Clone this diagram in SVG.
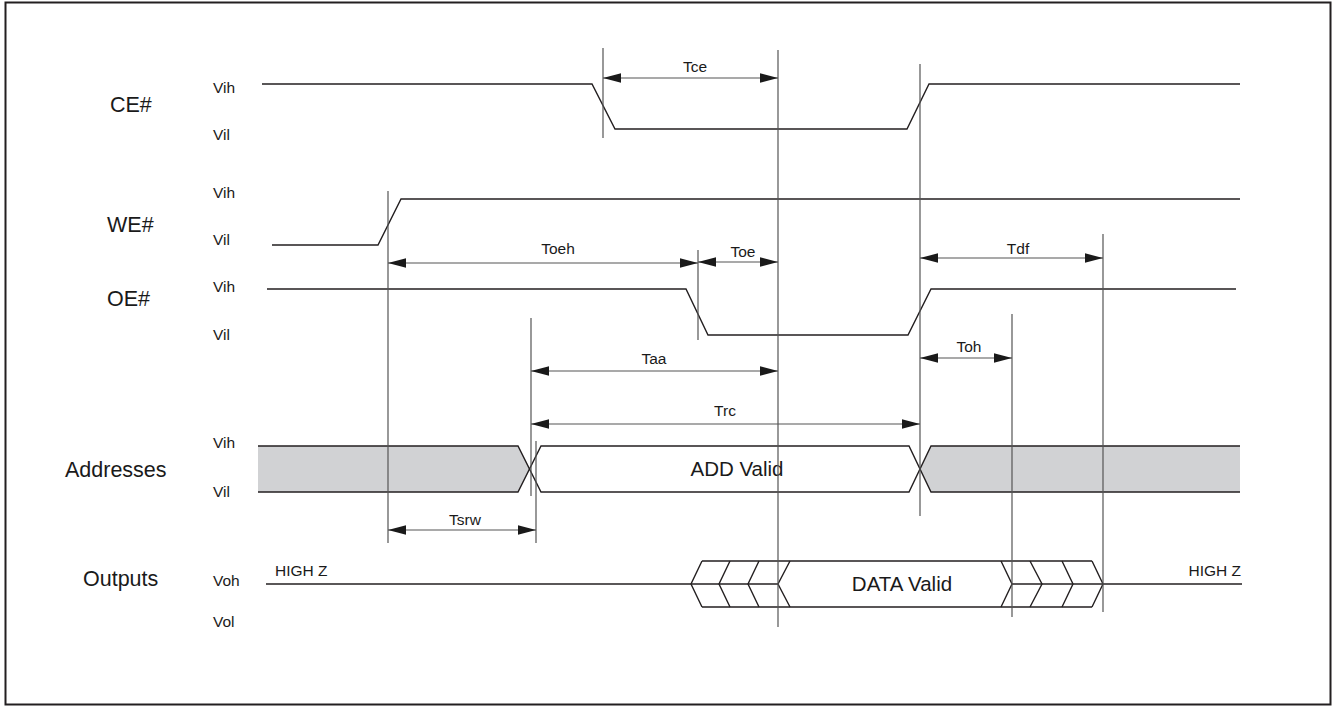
<svg xmlns="http://www.w3.org/2000/svg" width="1332" height="707" viewBox="0 0 1332 707">
<style>
.sig{fill:none;stroke:#231f20;stroke-width:1.4}
.ref{fill:none;stroke:#555;stroke-width:1.2}
.dim{fill:none;stroke:#555;stroke-width:1.2;marker-start:url(#ah);marker-end:url(#ah)}
.big{font-family:"Liberation Sans",Arial,sans-serif;font-size:21.5px;fill:#1a1a1a}
.sm{font-family:"Liberation Sans",Arial,sans-serif;font-size:15.5px;fill:#1a1a1a}
.mid{font-family:"Liberation Sans",Arial,sans-serif;font-size:20.5px;fill:#1a1a1a;text-anchor:middle}
.tl{font-family:"Liberation Sans",Arial,sans-serif;font-size:15.5px;fill:#1a1a1a;text-anchor:middle}
.band{fill:#d1d2d4;stroke:none}
</style>
<defs>
<marker id="ah" markerUnits="userSpaceOnUse" markerWidth="18" markerHeight="10" refX="18" refY="5" orient="auto-start-reverse" viewBox="0 0 18 10">
<path d="M0,0.3 L18,5 L0,9.7 z" fill="#1a1a1a"/>
</marker>
</defs>
<rect x="5.5" y="2.5" width="1325" height="702" fill="#fff" stroke="#231f20" stroke-width="2"/>

<g id="ce">
<text class="big" x="110" y="112">CE#</text>
<text class="sm" x="213" y="93">Vih</text>
<text class="sm" x="213" y="140">Vil</text>
<path class="sig" d="M262,84 H592 L615,129 H907 L929,84 H1240"/>
</g>

<g id="we">
<text class="big" x="107" y="232">WE#</text>
<text class="sm" x="213" y="198">Vih</text>
<text class="sm" x="213" y="245">Vil</text>
<path class="sig" d="M272,245 H378 L401,199 H1240"/>
</g>

<g id="oe">
<text class="big" x="107" y="306">OE#</text>
<text class="sm" x="213" y="292">Vih</text>
<text class="sm" x="213" y="340">Vil</text>
<path class="sig" d="M267,289 H686 L708,335 H908 L931,289 H1236"/>
</g>

<g id="addresses">
<text class="big" x="65" y="477">Addresses</text>
<text class="sm" x="213" y="448">Vih</text>
<text class="sm" x="213" y="497">Vil</text>
<path class="band" d="M258,446 H518 L530,469 L518,492 H258 Z"/>
<path class="band" d="M1240,446 H931 L920,469 L931,492 H1240 Z"/>
<path class="sig" d="M258,446 H518 L541,492 H909 L931,446 H1240"/>
<path class="sig" d="M258,492 H518 L541,446 H909 L931,492 H1240"/>
<text class="mid" x="737" y="476">ADD Valid</text>
</g>

<g id="outputs">
<text class="big" x="83" y="586">Outputs</text>
<text class="sm" x="213" y="586">Voh</text>
<text class="sm" x="213" y="627">Vol</text>
<text class="sm" x="275" y="576">HIGH Z</text>
<text class="sm" x="1241" y="576" text-anchor="end">HIGH Z</text>
<path class="sig" d="M266,584 H778"/>
<path class="sig" d="M1012,584 H1242"/>
<path class="sig" d="M702,561 H1092 M702,607 H1092"/>
<path class="sig" d="M702,561 L691,584 L702,607 M730,561 L719,584 L730,607 M759,561 L748,584 L759,607 M790,561 L778,584 L790,607"/>
<path class="sig" d="M1001,561 L1012,584 L1001,607 M1030,561 L1042,584 L1030,607 M1062,561 L1073,584 L1062,607 M1092,561 L1103,584 L1092,607"/>
<text class="mid" x="902" y="591">DATA Valid</text>
</g>

<g id="connectors">
<path class="ref" d="M388,191 V543 M531,318 V496 M536,441 V543 M603,48 V138 M698,250 V340 M778,50 V627 M920,64 V516 M1012,314 V617 M1103,234 V612"/>
<path class="dim" d="M603,78 H778"/>
<text class="tl" x="695" y="72">Tce</text>
<path class="dim" d="M388,263 H698"/>
<text class="tl" x="558" y="254">Toeh</text>
<path class="dim" d="M698,262 H778"/>
<text class="tl" x="743" y="257">Toe</text>
<path class="dim" d="M920,258 H1103"/>
<text class="tl" x="1018" y="254">Tdf</text>
<path class="dim" d="M920,358 H1012"/>
<text class="tl" x="969" y="352">Toh</text>
<path class="dim" d="M531,371 H778"/>
<text class="tl" x="654" y="364">Taa</text>
<path class="dim" d="M531,424 H920"/>
<text class="tl" x="725" y="416">Trc</text>
<path class="dim" d="M388,530 H536"/>
<text class="tl" x="465" y="525">Tsrw</text>
</g>
</svg>
